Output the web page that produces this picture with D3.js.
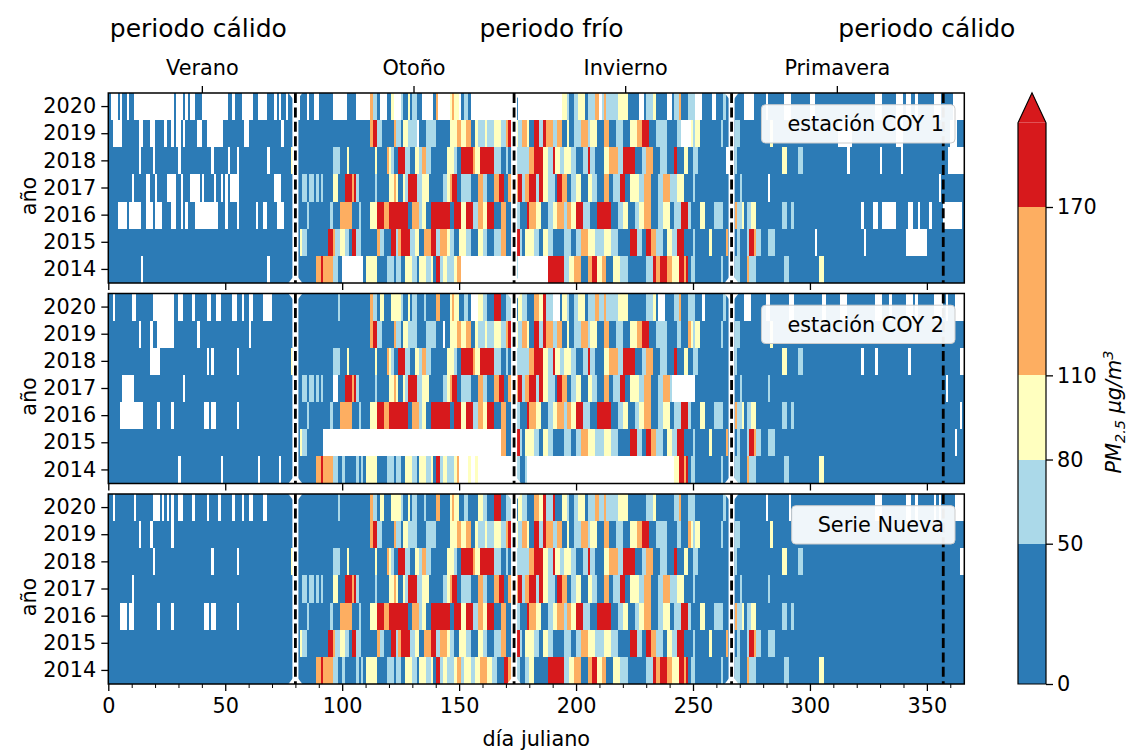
<!DOCTYPE html>
<html>
<head>
<meta charset="utf-8">
<script src="https://cdn.jsdelivr.net/npm/d3@7"></script>
<style>
  body { margin: 0; background: #fff; }
  svg { display: block; }
  text { font-family: "DejaVu Sans", sans-serif; fill: #000; }
</style>
</head>
<body>
<svg id="chart" width="1129" height="752"></svg>
<script>
// ---------------- data ----------------
const years = [2014, 2015, 2016, 2017, 2018, 2019, 2020];

// PM2.5 class boundaries (µg/m3) and colours
const classBreaks = [50, 80, 110, 170];
const classColors = ["#2c7bb6", "#abd9e9", "#ffffbf", "#fdae61", "#d7191c"];
const colorbarTicks = [0, 50, 80, 110, 170];
const colorbarTop = 200;

// representative concentration of each daily class code
// a: <50, b: 50-80, c: 80-110, d: 110-170, e: >170, x: no data
const classValue = { a: 30, b: 65, c: 95, d: 140, e: 190, x: null };

// "Serie Nueva": daily classes per year as "startDay+code" runs (2014 ... 2020)
const serieNueva = [
  "0a 89d 91e 92d 96b 98a 100b 101a 106b 107a 108b 109a 110c 115a 119b 122a 123b 125a 127c 130b 132a 133c 136b 138c 139a 140e 142b 143c 145b 148c 149d 151b 152c 155b 157c 159d 162c 164b 166a 169e 171d 173b 176a 178b 180c 182a 188e 195b 197c 199d 202a 205d 207e 209c 211d 213a 216c 219b 222a 230b 233e 234d 236e 239d 241c 244e 246d 247e 248a 249b 251a 262b 263a 268b 270a 273d 274b 277a 289b 291a 304c 306a",
  "0a 82c 83b 85a 94e 96d 97b 99c 101b 103a 104e 106b 108a 115d 116b 118a 121e 123b 124d 125e 129b 131c 133a 135d 138e 140b 142d 145c 146b 148a 150c 153b 155a 158c 160b 162a 165b 168d 170a 172e 176b 177a 178c 182b 184a 186c 188b 190a 195b 198a 200b 202d 205c 208b 212c 215b 218a 223e 226b 228a 230e 232d 234b 237a 239c 241b 243e 246a 250b 251a 257c 258a 264d 265a 269b 270a 273b 274e 276d 277b 279a 282b 285a",
  "0a 5x 8a 9x 11a 21x 22a 27x 28a 41x 43a 44x 46a 55x 56a 85b 86a 95b 96a 99d 104a 107b 108a 112c 115e 118d 120e 128a 130d 133b 134c 136a 138e 146a 148e 151c 153e 156b 158d 160c 162e 165a 168d 170a 172d 174b 176a 179e 180d 183c 185a 188b 190c 192d 195b 196d 198c 200e 203b 206a 209e 215a 218b 220c 222a 225b 227c 229d 232a 235b 237c 240a 242b 245e 248b 249a 253c 255a 259b 263a 268d 269b 271c 272a 273b 275c 277a 288b 290a 292b 293a",
  "0a 10x 11a 83b 85a 86b 88a 89b 90a 91b 92a 96c 98a 101e 104d 105e 106b 107a 114b 115a 120c 122d 123c 124a 126c 127b 128e 132b 134c 137a 143b 145c 146d 147e 149a 151b 155a 158d 160b 162a 165d 167e 169a 171d 175e 177b 178d 180e 183b 184e 186c 188b 191a 192e 194d 196a 198b 200c 202a 205c 207b 209a 212d 214a 216b 219e 221a 223c 227b 229d 232a 235b 237d 240b 243c 246a 250b 251a 270b 271a 282b 283a",
  "0a 19x 20a 44x 45a 55x 56a 78c 79a 96b 99a 102c 103a 114c 115a 119d 120c 121b 122a 124e 127b 129a 131c 133b 134d 136b 138a 145c 148b 149a 151e 156d 157c 159e 165b 168a 170b 171a 173b 180d 182e 186c 188b 190e 191c 193b 195c 198b 200a 203b 205e 206b 208a 212c 214d 218b 220e 225a 228b 230d 233a 236b 239a 242e 243a 246c 248a 250b 252a 268b 269a 288c 290a 295b 297a 364x",
  "0a 13x 14a 18x 19a 27x 28a 112d 113e 115b 117a 122d 123b 125a 126c 128b 132a 136b 140a 146c 149d 151c 153d 155a 157c 158b 161c 162b 165c 168b 170d 171e 172b 174c 175b 177d 179c 180a 182e 184b 186e 187d 190b 192d 194a 196c 197a 199b 202d 205b 206c 209a 212d 214a 217b 220a 223c 226d 228e 231a 234b 239a 243b 245a 248d 249c 250b 251c 253a 262b 263a 268b 270a 283c 284a",
  "0a 2x 3a 11x 12a 19x 22a 23x 24a 25x 26a 27x 28a 30x 32a 36x 37a 42x 43a 47x 48a 53x 54a 57x 58a 60x 62a 66x 68a 98b 99a 112d 113b 115a 116c 118a 121c 125b 126a 128c 129a 130b 132a 135b 136a 140d 142a 146c 147d 148c 150a 152b 154a 158c 160b 162a 165e 168a 170b 172c 174a 175c 177b 179a 182d 184c 186e 187b 190e 191a 194c 196b 197a 199b 201c 204a 205b 208d 210b 212d 213b 218c 222a 230b 233c 234a 242b 244d 245a 248b 251a 263b 264a 281x 282a 291x 292a 328x 331a 341x 343a 345x 346a 353x 354a 355x 356a 362x"
];

// days without record at each station (ranges start-end, 2014 ... 2020)
const faltantesCoy1 = [
  "14-15 68-69 100-109 151-173 175-188",
  "302-303 323-324 341-350",
  "4-8 9-14 16-19 20-23 28-29 31-32 33-34 37-47 50-51 63-64 66-68 72-75 322-323 327-329 331-337 342-344 346-347 351-352 357-365",
  "10-11 16-18 20-21 25-29 31-32 35-39 40-41 45-46 48-49 50-51 52-56 71-74 282-283 355-356",
  "13-14 19-20 30-31 44-45 51-52 55-56 68-69 264-266 316-317 330-331 339-340 359-364",
  "2-6 14-15 18-20 24-25 29-31 32-33 38-40 42-49 58-60 74-75 132-133 245-249 312-318 337-340 360-363",
  "1-2 3-4 5-6 8-9 11-19 20-27 29-30 33-34 35-36 40-51 57-62 64-66 71-72 73-74 76-77 81-82 85-86 88-90 96-102 106-112 116-119 122-125 134-139 141-146 150-151 155-173 175-194 210-211 227-229 239-241 251-254 258-260 272-276 289-291 300-302 328-331 337-340 341-343 345-346 353-355 361-366"
];
const faltantesCoy2 = [
  "30-31 48-49 64-65 73-74 150-154 155-157 158-173 179-242",
  "92-168 362-363",
  "5-10 11-15 42-43 55-56 364-365",
  "6-10 32-33 96-98 241-251 358-359",
  "18-22 42-43 322-323 328-329 342-343",
  "13-14 21-28 38-39 60-61 143-144",
  "10-11 20-27 30-32 36-37 42-44 46-47 54-55 57-58 66-70 155-158 190-193 235-238 254-255 272-275 282-283 292-293 305-307 313-316 328-331 334-335 343-344 354-357 358-359"
];

const panelNames = ["estación COY 1", "estación COY 2", "Serie Nueva"];

// season boundaries (day of year) and labels
const seasonLines = [80, 173.5, 266.5];
const yearEndLine = 357;
const seasonTickDays = [40, 130.5, 221, 311.5];
const seasonLabels = ["Verano", "Otoño", "Invierno", "Primavera"];
const periodDays = [38.5, 189.5, 350];
const periodLabels = ["periodo cálido", "periodo frío", "periodo cálido"];

// ---------------- helpers ----------------
const NDAYS = 366;
const FS = 20.8;      // tick / label font size
const FS_TITLE = 25;  // period titles

function expandRuns(str) {
  const toks = str.trim().split(/\s+/).map(t => [+t.slice(0, -1), t.slice(-1)]);
  const out = new Array(NDAYS).fill(null);
  toks.forEach(([s, c], i) => {
    const e = i + 1 < toks.length ? toks[i + 1][0] : NDAYS;
    for (let d = s; d < e && d < NDAYS; d++) out[d] = classValue[c];
  });
  return out;
}
function applyGaps(values, str) {
  const out = values.slice();
  str.trim().split(/\s+/).filter(Boolean).forEach(r => {
    const [s, e] = r.split("-").map(Number);
    for (let d = s; d < e && d < NDAYS; d++) out[d] = null;
  });
  return out;
}

const nuevaValues = serieNueva.map(expandRuns);
const panels = [
  nuevaValues.map((v, i) => applyGaps(v, faltantesCoy1[i])),
  nuevaValues.map((v, i) => applyGaps(v, faltantesCoy2[i])),
  nuevaValues
];

// ---------------- layout ----------------
const svg = d3.select("#chart");
const left = 108.3, right = 964.3;
const panelTops = [93, 293.5, 494];
const panelH = 190;

const x = d3.scaleLinear().domain([0, NDAYS]).range([left, right]);
const color = d3.scaleThreshold().domain(classBreaks).range(classColors);

panels.forEach((rows, p) => {
  const top = panelTops[p];
  const y = d3.scaleBand().domain(years.slice().reverse()).range([top, top + panelH]).padding(0);
  const g = svg.append("g");

  // heat cells: consecutive days with the same class merged into one rect
  years.forEach((yr, yi) => {
    const vals = rows[yi];
    const segs = [];
    let d = 0;
    while (d < NDAYS) {
      if (vals[d] === null) { d++; continue; }
      const c = color(vals[d]);
      let e = d + 1;
      while (e < NDAYS && vals[e] !== null && color(vals[e]) === c) e++;
      segs.push({ s: d, e: e, c: c });
      d = e;
    }
    g.selectAll(null).data(segs).enter().append("rect")
      .attr("x", s => x(s.s))
      .attr("width", s => x(s.e) - x(s.s))
      .attr("y", y(yr))
      .attr("height", y.bandwidth())
      .attr("fill", s => s.c)
      .attr("shape-rendering", "crispEdges");
  });

  // season boundaries: white-backed dashed lines
  const bottom = top + panelH;
  seasonLines.forEach(dv => {
    const xx = x(dv);
    g.append("line").attr("x1", xx).attr("x2", xx).attr("y1", top).attr("y2", bottom)
      .attr("stroke", "#fff").attr("stroke-width", 6);
    g.append("path").attr("d", `M${xx - 7},${top} L${xx + 7},${top} L${xx},${top + 9} Z`).attr("fill", "#fff");
    g.append("path").attr("d", `M${xx - 7},${bottom} L${xx + 7},${bottom} L${xx},${bottom - 9} Z`).attr("fill", "#fff");
    g.append("line").attr("x1", xx).attr("x2", xx).attr("y1", top).attr("y2", bottom)
      .attr("stroke", "#000").attr("stroke-width", 2.8).attr("stroke-dasharray", "10,4.4");
  });
  {
    const xx = x(yearEndLine);
    g.append("line").attr("x1", xx).attr("x2", xx).attr("y1", top).attr("y2", bottom)
      .attr("stroke", "#000").attr("stroke-width", 2.8).attr("stroke-dasharray", "10,4.4");
  }

  // legend box
  const lg = g.append("g");
  const txt = lg.append("text").attr("x", 944).attr("y", top + 38)
    .attr("text-anchor", "end").attr("font-size", FS).text(panelNames[p]);
  const w = txt.node().getComputedTextLength();
  lg.insert("rect", "text")
    .attr("x", 944 - w - 26).attr("y", top + 11.7)
    .attr("width", 955 - (944 - w - 26)).attr("height", 38.3)
    .attr("rx", 4).attr("ry", 4)
    .attr("fill", "#fff").attr("fill-opacity", 0.93)
    .attr("stroke", "#cccccc").attr("stroke-width", 1);

  // y axis
  const ya = g.append("g").attr("transform", `translate(${left},0)`)
    .call(d3.axisLeft(y).tickSize(7).tickPadding(5));
  ya.select(".domain").remove();
  ya.selectAll("text").attr("font-size", FS).attr("font-family", "DejaVu Sans");
  ya.selectAll("line").attr("stroke-width", 1.3);

  g.append("text")
    .attr("transform", `translate(36,${top + panelH / 2 + 8}) rotate(-90)`)
    .attr("text-anchor", "middle").attr("font-size", FS).text("año");

  // x axis
  const xa = g.append("g").attr("transform", `translate(0,${bottom})`)
    .call(d3.axisBottom(x).tickValues(d3.range(0, 351, 50)).tickSize(7).tickPadding(7)
      .tickFormat(p === 2 ? d3.format("d") : () => ""));
  xa.select(".domain").remove();
  xa.selectAll("text").attr("font-size", FS).attr("font-family", "DejaVu Sans");
  xa.selectAll("line").attr("stroke-width", 1.3);
  if (p === 2) {
    const minor = d3.range(0, 366, 10).filter(v => v % 50 !== 0);
    const xm = g.append("g").attr("transform", `translate(0,${bottom})`)
      .call(d3.axisBottom(x).tickValues(minor).tickSize(4).tickFormat(() => ""));
    xm.select(".domain").remove();
    xm.selectAll("line").attr("stroke-width", 1);
  }
  if (p === 0) {
    const ta = g.append("g").attr("transform", `translate(0,${top})`)
      .call(d3.axisTop(x).tickValues(seasonTickDays).tickSize(7).tickPadding(11)
        .tickFormat((d, i) => seasonLabels[i]));
    ta.select(".domain").remove();
    ta.selectAll("text").attr("font-size", FS).attr("font-family", "DejaVu Sans");
    ta.selectAll("line").attr("stroke-width", 1.3);
  }

  // frame
  g.append("rect").attr("x", left).attr("y", top).attr("width", right - left).attr("height", panelH)
    .attr("fill", "none").attr("stroke", "#000").attr("stroke-width", 1.5);
});

// x label
svg.append("text").attr("x", (left + right) / 2).attr("y", 746)
  .attr("text-anchor", "middle").attr("font-size", FS).text("día juliano");

// period titles
periodLabels.forEach((t, i) => {
  svg.append("text").attr("x", x(periodDays[i])).attr("y", 37)
    .attr("text-anchor", "middle").attr("font-size", FS_TITLE).text(t);
});

// ---------------- colorbar ----------------
const cbL = 1018, cbR = 1046;
const cb = d3.scaleLinear().domain([0, 170]).range([684, 207]);
const cbEdges = [0].concat(classBreaks).concat([colorbarTop]);
const cbg = svg.append("g");
for (let i = 0; i < cbEdges.length - 1; i++) {
  cbg.append("rect").attr("x", cbL).attr("width", cbR - cbL)
    .attr("y", cb(cbEdges[i + 1])).attr("height", cb(cbEdges[i]) - cb(cbEdges[i + 1]))
    .attr("fill", color((cbEdges[i] + cbEdges[i + 1]) / 2))
    .attr("shape-rendering", "crispEdges");
}
const triTop = cb(colorbarTop) - 30;
cbg.append("path")
  .attr("d", `M${cbL},${cb(colorbarTop)} L${(cbL + cbR) / 2},${triTop} L${cbR},${cb(colorbarTop)} Z`)
  .attr("fill", classColors[4]);
cbg.append("path")
  .attr("d", `M${cbL},${cb(0)} L${cbL},${cb(colorbarTop)} L${(cbL + cbR) / 2},${triTop} L${cbR},${cb(colorbarTop)} L${cbR},${cb(0)} Z`)
  .attr("fill", "none").attr("stroke", "#000").attr("stroke-width", 1.2);
const cba = cbg.append("g").attr("transform", `translate(${cbR},0)`)
  .call(d3.axisRight(cb).tickValues(colorbarTicks).tickSize(7).tickPadding(4).tickFormat(d3.format("d")));
cba.select(".domain").remove();
cba.selectAll("text").attr("font-size", FS).attr("font-family", "DejaVu Sans");
cba.selectAll("line").attr("stroke-width", 1.3);

const cbl = svg.append("text")
  .attr("transform", "translate(1121,412) rotate(-90)")
  .attr("text-anchor", "middle").attr("font-size", FS).attr("font-style", "italic");
cbl.append("tspan").text("PM");
cbl.append("tspan").attr("font-size", 14.5).attr("dy", 4).text("2.5");
cbl.append("tspan").attr("dy", -4).text(" μg/m");
cbl.append("tspan").attr("font-size", 14.5).attr("dy", -8).text("3");
</script>
</body>
</html>
